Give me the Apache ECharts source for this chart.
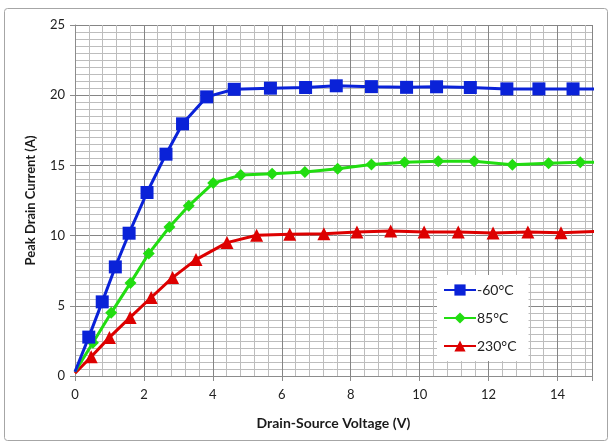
<!DOCTYPE html>
<html>
<head>
<meta charset="utf-8">
<script src="https://cdn.jsdelivr.net/npm/echarts@6/dist/echarts.min.js"></script>
<style>
html,body{margin:0;padding:0;background:#fff;}
#chart{width:614px;height:445px;}
</style>
</head>
<body>
<div id="chart"></div>
<script>
// Drain-source voltage (V) and peak drain current (A) per junction temperature
const seriesNames = ['-60°C', '85°C', '230°C'];

const vdsCold = [0, 0.40, 0.79, 1.17, 1.57, 2.09, 2.64, 3.12, 3.82, 4.62, 5.67, 6.69, 7.58, 8.60, 9.62, 10.49, 11.47, 12.53, 13.46, 14.45, 15.3];
const idCold  = [0.3, 2.77, 5.28, 7.77, 10.17, 13.07, 15.80, 17.96, 19.88, 20.42, 20.50, 20.55, 20.67, 20.61, 20.56, 20.60, 20.55, 20.45, 20.45, 20.45, 20.45];

const vdsMid = [0, 0.52, 1.05, 1.61, 2.14, 2.74, 3.30, 4.01, 4.81, 5.72, 6.67, 7.62, 8.60, 9.56, 10.54, 11.58, 12.69, 13.74, 14.66, 15.6];
const idMid  = [0.3, 2.37, 4.50, 6.63, 8.72, 10.61, 12.12, 13.74, 14.31, 14.41, 14.53, 14.76, 15.07, 15.23, 15.30, 15.30, 15.05, 15.16, 15.23, 15.23];

const vdsHot = [0, 0.47, 1.00, 1.60, 2.21, 2.83, 3.51, 4.41, 5.27, 6.23, 7.22, 8.18, 9.16, 10.13, 11.12, 12.13, 13.14, 14.10, 15.1];
const idHot  = [0.2, 1.37, 2.75, 4.17, 5.59, 7.01, 8.29, 9.50, 10.02, 10.09, 10.14, 10.26, 10.33, 10.26, 10.26, 10.19, 10.26, 10.21, 10.30];

const xTicks = [0, 2, 4, 6, 8, 10, 12, 14];
const yTicks = [0, 5, 10, 15, 20, 25];

// The curve starts at the origin without a marker
const points = (xs, ys) => xs.map((x, i) =>
  i === 0 ? {value: [x, ys[i]], symbol: 'none'} : [x, ys[i]]);

const FONT = 'Lato, "Open Sans", sans-serif';
const colors = ['#0a22d8', '#22dd11', '#dd0000'];
const symbols = ['rect', 'diamond', 'triangle'];
const sizes = [13, 12, 13];
const dataSets = [points(vdsCold, idCold), points(vdsMid, idMid), points(vdsHot, idHot)];

const chart = echarts.init(document.getElementById('chart'), null, {renderer: 'canvas'});

chart.setOption({
  animation: false,
  backgroundColor: '#fff',
  graphic: [{
    type: 'rect',
    shape: {x: 4.5, y: 8.5, width: 603, height: 432, r: 3},
    style: {fill: 'none', stroke: '#a6a6a6', lineWidth: 1},
    z: -10
  }],
  grid: {left: 75, top: 25, width: 517, height: 351, containLabel: false},
  xAxis: {
    type: 'value',
    min: 0, max: 15, interval: 2,
    name: 'Drain-Source Voltage (V)',
    nameLocation: 'middle',
    nameGap: 40,
    nameTextStyle: {fontFamily: FONT, fontWeight: 'bold', fontSize: 14, color: '#1a1a1a'},
    axisLine: {show: true, lineStyle: {color: '#8c8c8c', width: 1}},
    axisTick: {show: true, length: 5, lineStyle: {color: '#8c8c8c'}},
    axisLabel: {
      fontFamily: FONT, fontSize: 13, color: '#222', margin: 12,
      formatter: v => xTicks.includes(v) ? String(v) : ''
    },
    splitLine: {show: true, lineStyle: {color: '#858585', width: 1}},
    minorTick: {show: false, splitNumber: 5},
    minorSplitLine: {show: true, lineStyle: {color: '#bdbdbd', width: 1}}
  },
  yAxis: {
    type: 'value',
    min: 0, max: 25, interval: 5,
    name: 'Peak Drain Current (A)',
    nameLocation: 'middle',
    nameGap: 38,
    nameTextStyle: {fontFamily: FONT, fontWeight: 'bold', fontSize: 13, color: '#1a1a1a'},
    axisLine: {show: true, lineStyle: {color: '#8c8c8c', width: 1}},
    axisTick: {show: true, length: 5, lineStyle: {color: '#8c8c8c'}},
    axisLabel: {
      fontFamily: FONT, fontSize: 13, color: '#222', margin: 10,
      formatter: v => yTicks.includes(v) ? String(v) : ''
    },
    splitLine: {show: true, lineStyle: {color: '#858585', width: 1}},
    minorTick: {show: false, splitNumber: 10},
    minorSplitLine: {show: true, lineStyle: {color: '#bdbdbd', width: 1}}
  },
  legend: {
    orient: 'vertical',
    left: 437, top: 275,
    backgroundColor: '#ffffff',
    padding: [8, 12, 8, 6],
    itemGap: 14,
    itemWidth: 32,
    itemHeight: 14,
    textStyle: {fontFamily: FONT, fontSize: 14, color: '#222', padding: [0, 0, 0, -4]},
    data: seriesNames
  },
  series: dataSets.map((d, i) => ({
    name: seriesNames[i],
    type: 'line',
    data: d,
    clip: true,
    showSymbol: true,
    symbol: symbols[i],
    symbolSize: sizes[i],
    lineStyle: {color: colors[i], width: 3},
    itemStyle: {color: colors[i]},
    z: 10 - i
  }))
});
</script>
</body>
</html>
